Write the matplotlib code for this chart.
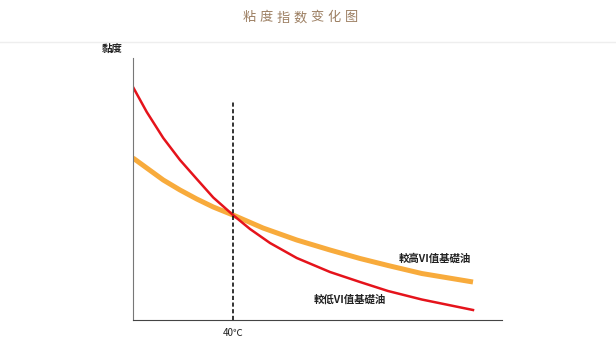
import matplotlib
matplotlib.use('Agg')
import matplotlib.pyplot as plt

plt.rcParams['font.family'] = ['Noto Sans CJK TC', 'DejaVu Sans']

# 數據 (溫度, 黏度) -- 由圖片讀取
temp_low = [0, 5.5, 12.1, 18.8, 25.5, 32.1, 40, 46.8, 54.8, 65.5, 78.8, 90.8, 102, 115.5, 136]
visc_low = [233, 208, 182, 160, 141, 122.5, 105, 91, 77, 62, 48, 38, 29, 20.5, 10]
temp_high = [0, 5.5, 12.1, 18.8, 25.5, 32.1, 40, 52, 65.5, 78.8, 90.8, 102, 115.5, 136]
visc_high = [162, 152, 140, 130, 121, 113, 105, 92, 80, 70, 61.5, 54.5, 46.5, 38]
ref_temp = 40
ref_top = 220

title = '粘度指数变化图'
ylabel = '黏度'
xlabel = '40℃'
label_high = '較高VI值基礎油'
label_low = '較低VI值基礎油'

fig = plt.figure(figsize=(6.16, 3.39), dpi=100)
# 標題字距較寬，逐字放置
for i, ch in enumerate(title):
    fig.text((249 + i * 17) / 616, 1 - 18 / 339, ch, ha='center', va='center',
             fontsize=9.5, color='#9c7f62', family=['Noto Sans CJK SC', 'DejaVu Sans'])
fig.add_artist(plt.Line2D([0, 1], [1 - 42 / 339] * 2, color='#eeeeee', lw=1))

ax = fig.add_axes([133 / 616, 1 - 320 / 339, (502 - 133) / 616, (320 - 58) / 339])
ax.plot(temp_high, visc_high, color='#f8ab3c', lw=3.6, solid_capstyle='butt',
        solid_joinstyle='round')
ax.plot(temp_low, visc_low, color='#e5131b', lw=1.8, solid_joinstyle='round')
ax.plot([ref_temp, ref_temp], [0, ref_top], color='#111111', lw=1.2, ls=(0, (2.5, 1.5)))

ax.set_xlim(0, (502 - 133) * 0.4)
ax.set_ylim(0, 262)
ax.set_xticks([])
ax.set_yticks([])
for s in ['top', 'right']:
    ax.spines[s].set_visible(False)
ax.spines['left'].set_color('#777777')
ax.spines['bottom'].set_color('#444444')

ax.text(ref_temp, -13, xlabel, ha='center', va='center', fontsize=7, color='#222222')
ax.text(-8.4, 271, ylabel, ha='center', va='center', fontsize=7.5, color='#222222',
        fontweight='bold', clip_on=False)
ax.text(120.8, 62, label_high, ha='center', va='center', fontsize=7.5,
        color='#222222', fontweight='bold')
ax.text(86.8, 20, label_low, ha='center', va='center', fontsize=7.5,
        color='#222222', fontweight='bold')

fig.savefig('out.png', dpi=100)
